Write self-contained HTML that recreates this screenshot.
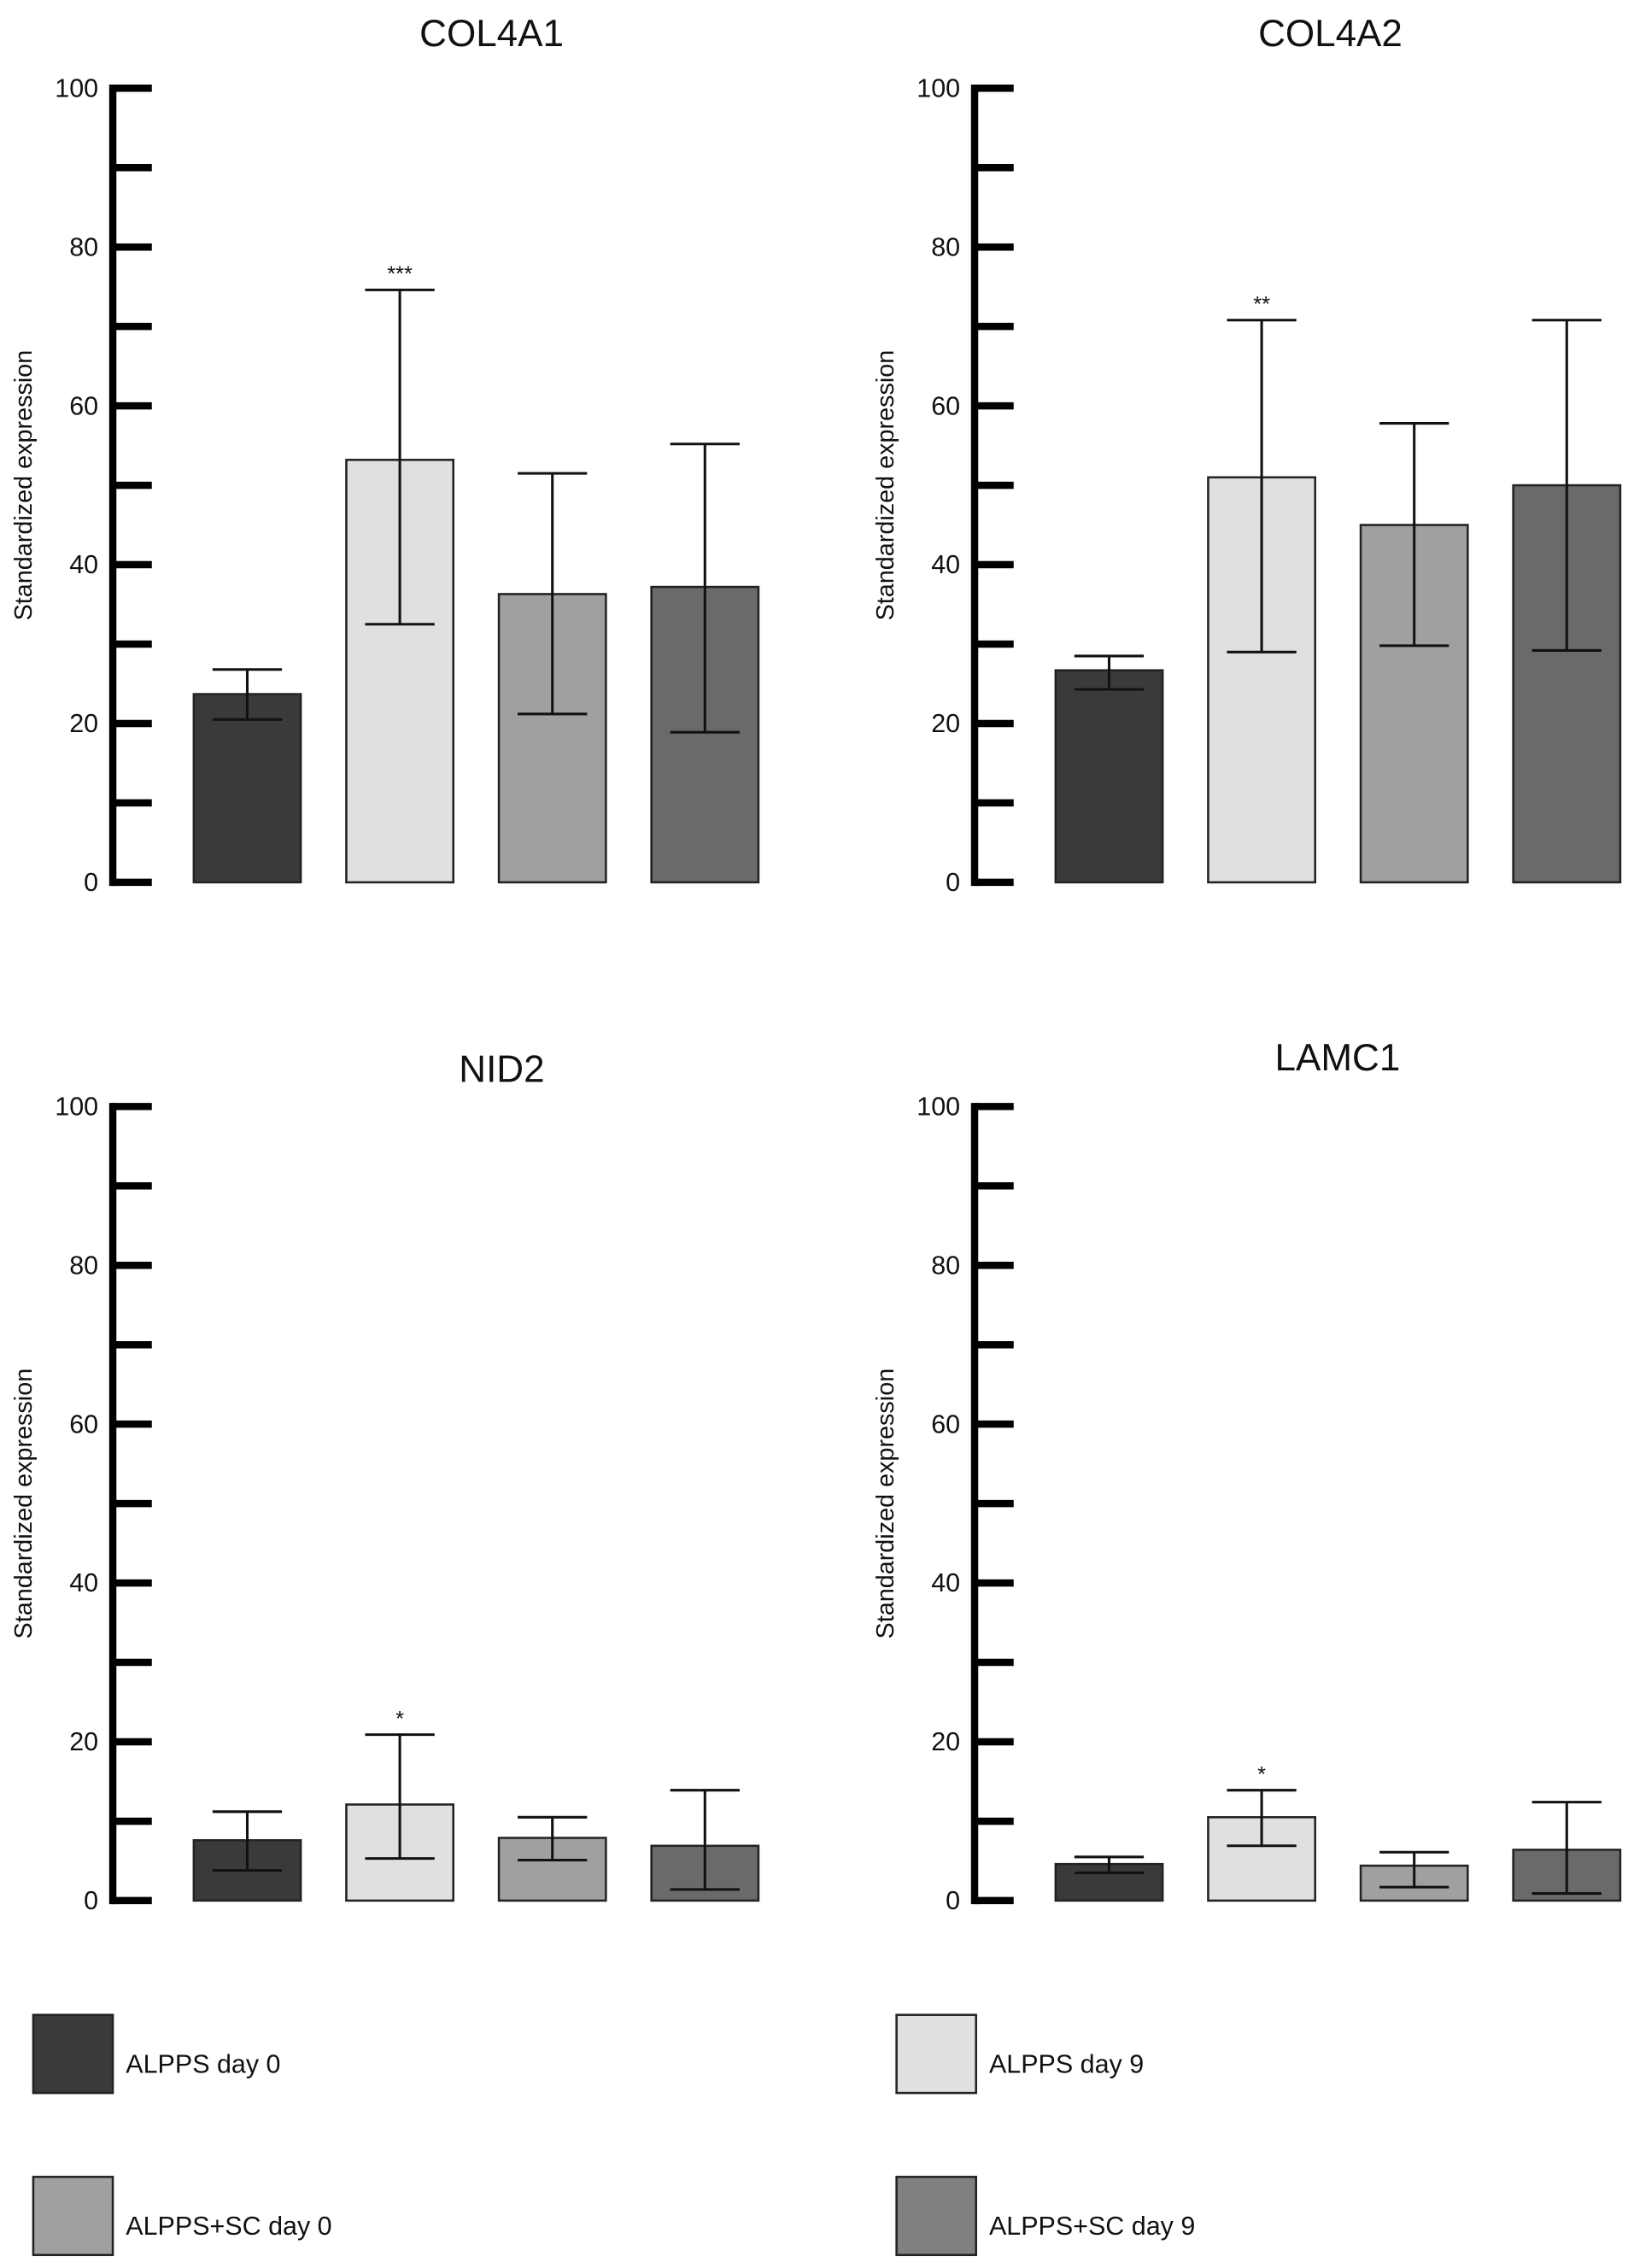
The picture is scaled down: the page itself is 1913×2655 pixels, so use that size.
<!DOCTYPE html>
<html><head><meta charset="utf-8">
<style>
html,body{margin:0;padding:0;background:#fff;}
svg{display:block;}
text{font-family:"Liberation Sans",sans-serif;fill:#111;}
</style></head>
<body>
<svg id="fig" width="1913" height="2655" viewBox="0 0 1130 1568" preserveAspectRatio="none" xmlns="http://www.w3.org/2000/svg"></svg>
<script>
const groups = ["ALPPS day 0","ALPPS day 9","ALPPS+SC day 0","ALPPS+SC day 9"];
const colors = ["#3a3a3a","#e0e0e0","#a0a0a0","#6a6a6a"];
const legendColors = ["#3a3a3a","#e0e0e0","#a0a0a0","#808080"];
const panelTitles = ["COL4A1","COL4A2","NID2","LAMC1"];
const meanCOL4A1 = [23.7,53.2,36.3,37.2];
const lowCOL4A1 = [20.5,32.5,21.2,18.9];
const highCOL4A1 = [26.8,74.6,51.5,55.2];
const meanCOL4A2 = [26.7,51.0,45.0,50.0];
const lowCOL4A2 = [24.3,29.0,29.8,29.2];
const highCOL4A2 = [28.5,70.8,57.8,70.8];
const meanNID2 = [7.6,12.1,7.9,6.9];
const lowNID2 = [3.8,5.3,5.1,1.4];
const highNID2 = [11.2,20.9,10.5,13.9];
const meanLAMC1 = [4.6,10.5,4.4,6.4];
const lowLAMC1 = [3.5,6.9,1.7,0.9];
const highLAMC1 = [5.5,13.9,6.1,12.4];
const sigLabels = [["","***","",""],["","**","",""],["","*","",""],["","*","",""]];
const tickValues = [0,10,20,30,40,50,60,70,80,90,100];
const tickLabels = ["0","","20","","40","","60","","80","","100"];

const means=[meanCOL4A1,meanCOL4A2,meanNID2,meanLAMC1];
const lows=[lowCOL4A1,lowCOL4A2,lowNID2,lowLAMC1];
const highs=[highCOL4A1,highCOL4A2,highNID2,highLAMC1];
const NS="http://www.w3.org/2000/svg";
const svg=document.getElementById('fig');
function mk(tag,attrs,parent){const e=document.createElementNS(NS,tag);for(const k in attrs)e.setAttribute(k,attrs[k]);(parent||svg).appendChild(e);return e;}

const layouts=[{ax:78,top:61,bot:610,titleX:340,titleY:32},{ax:674,top:61,bot:610,titleX:920,titleY:32},
{ax:78,top:765,bot:1314,titleX:347,titleY:748},{ax:674,top:765,bot:1314,titleX:925,titleY:740}];
layouts.forEach((L,p)=>{
  const g=mk('g',{});
  
  
  const y=v=>L.bot-(v/100)*(L.bot-L.top);
  const bx=i=>L.ax+56+i*105.5;
  const t=mk('text',{x:L.titleX,y:L.titleY,'text-anchor':'middle','font-size':26},g);t.textContent=panelTitles[p];
  
  
  const yl=mk('text',{x:0,y:0,'text-anchor':'middle','font-size':17,transform:`translate(${L.ax-56},${(L.top+L.bot)/2}) rotate(-90)`},g);yl.textContent='Standardized expression';
  
  
  const axl=mk('line',{x1:L.ax,x2:L.ax,y1:y(100)-2.5,y2:y(0)+2.5,stroke:'#000','stroke-width':5},g);
  
  
  tickValues.forEach((v,i)=>{
    const tk=mk('line',{x1:L.ax,x2:L.ax+27,y1:y(v),y2:y(v),stroke:'#000','stroke-width':5},g);
    
    
    if(tickLabels[i]){const tl=mk('text',{x:L.ax-10,y:y(v)+6,'text-anchor':'end','font-size':18},g);tl.textContent=tickLabels[i];
      
      }
  });
  groups.forEach((gn,i)=>{
    const x=bx(i),w=74;
    const r=mk('rect',{x:x,y:y(means[p][i]),width:w,height:y(0)-y(means[p][i]),fill:colors[i],stroke:'#222','stroke-width':1.5},g);
    
    
    const cx=x+w/2;
    const e=mk('path',{d:`M${cx},${y(lows[p][i])}V${y(highs[p][i])}M${cx-24},${y(highs[p][i])}H${cx+24}M${cx-24},${y(lows[p][i])}H${cx+24}`,stroke:'#111','stroke-width':1.8,fill:'none'},g);
    
    
    if(sigLabels[p][i]){const s=mk('text',{x:cx,y:y(highs[p][i])-6,'text-anchor':'middle','font-size':15},g);s.textContent=sigLabels[p][i];
      
      }
  });
});
const legPos=[[23,1393],[620,1393],[23,1505],[620,1505]];
groups.forEach((gn,i)=>{
  const g=mk('g',{});
  
  
  const [lx,ly]=legPos[i];
  mk('rect',{x:lx,y:ly,width:55,height:54,fill:legendColors[i],stroke:'#222','stroke-width':1.5},g);
  const t=mk('text',{x:lx+64,y:ly+40,'font-size':18},g);t.textContent=gn;
});
</script>
</body></html>
